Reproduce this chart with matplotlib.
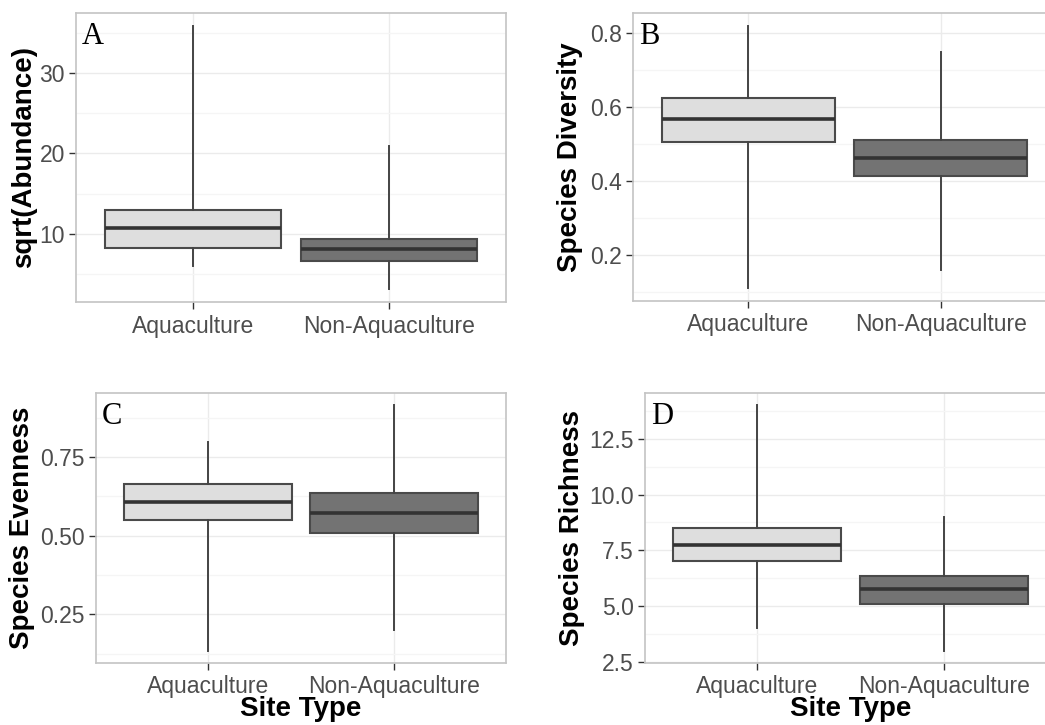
"""Four-panel boxplot figure: fish metrics at aquaculture vs non-aquaculture sites."""
import matplotlib
matplotlib.use("Agg")
import matplotlib.pyplot as plt
from matplotlib.ticker import FixedLocator

plt.rcParams["font.family"] = ["Liberation Sans", "DejaVu Sans"]

site_types = ["Aquaculture", "Non-Aquaculture"]
box_fills = ["#dedede", "#737373"]

# five-number summaries per site type: low whisker, q1, median, q3, high whisker
abundance_low = [6.0, 3.2]
abundance_q1 = [8.3, 6.6]
abundance_med = [10.7, 8.1]
abundance_q3 = [13.0, 9.4]
abundance_high = [35.8, 20.9]

diversity_low = [0.111, 0.160]
diversity_q1 = [0.506, 0.414]
diversity_med = [0.567, 0.463]
diversity_q3 = [0.624, 0.510]
diversity_high = [0.819, 0.749]

evenness_low = [0.134, 0.200]
evenness_q1 = [0.550, 0.508]
evenness_med = [0.608, 0.571]
evenness_q3 = [0.664, 0.635]
evenness_high = [0.797, 0.915]

richness_low = [4.0, 3.0]
richness_q1 = [7.0, 5.1]
richness_med = [7.75, 5.75]
richness_q3 = [8.5, 6.35]
richness_high = [14.0, 9.0]

W, H = 1045, 725


def add_panel(fig, rect_px, letter, ylabel, ylabel_x, stats, major, minor, ticklabels, show_xlabel):
    left, top, right, bottom = rect_px
    ax = fig.add_axes([left / W, 1 - bottom / H, (right - left) / W, (bottom - top) / H])
    lows, q1s, meds, q3s, highs = stats
    bxp_stats = []
    for i, name in enumerate(site_types):
        bxp_stats.append(dict(whislo=lows[i], q1=q1s[i], med=meds[i], q3=q3s[i],
                              whishi=highs[i], fliers=[], label=name))
    parts = ax.bxp(bxp_stats, positions=[1, 2], widths=0.9, patch_artist=True,
                   showcaps=False, showfliers=False,
                   boxprops=dict(edgecolor="#4a4a4a", linewidth=1.5),
                   medianprops=dict(color="#333333", linewidth=2.6),
                   whiskerprops=dict(color="#444444", linewidth=1.4), zorder=3)
    for patch, c in zip(parts["boxes"], box_fills):
        patch.set_facecolor(c)

    lo, hi = min(lows), max(highs)
    pad = 0.05 * (hi - lo)
    ax.set_ylim(lo - pad, hi + pad)
    ax.set_xlim(0.4, 2.6)

    ax.yaxis.set_major_locator(FixedLocator(major))
    ax.yaxis.set_minor_locator(FixedLocator(minor))
    ax.set_yticks(major, ticklabels)
    ax.set_xticks([1, 2], site_types)
    ax.grid(which="major", color="#ebebeb", linewidth=1.0, zorder=0)
    ax.grid(which="minor", axis="y", color="#f5f5f5", linewidth=1.0, zorder=0)
    ax.set_axisbelow(True)
    ax.tick_params(which="major", length=5, width=1.0, color="#333333",
                   labelcolor="#4d4d4d", labelsize=16.5, pad=3)
    ax.tick_params(axis="x", pad=4)
    ax.tick_params(which="minor", length=0)
    for s in ax.spines.values():
        s.set_color("#c4c4c4")
        s.set_linewidth(1.2)

    fig.text(ylabel_x / W, 1 - ((top + bottom) / 2) / H, ylabel, rotation=90,
             ha="center", va="center", fontsize=20, fontweight="bold")
    if show_xlabel:
        ax.set_xlabel("Site Type", fontsize=20, fontweight="bold", labelpad=-2)
    ax.annotate(letter, xy=(0, 1), xycoords="axes fraction", xytext=(6, -31),
                textcoords="offset pixels", ha="left", va="baseline",
                fontsize=22, family="Liberation Serif")
    return ax


fig = plt.figure(figsize=(W / 100, H / 100), dpi=100)

add_panel(fig, (76, 13, 506, 302), "A", "sqrt(Abundance)", 24,
          (abundance_low, abundance_q1, abundance_med, abundance_q3, abundance_high),
          [10, 20, 30], [5, 15, 25, 35], ["10", "20", "30"], False)
add_panel(fig, (633, 13, 1056, 301), "B", "Species Diversity", 570,
          (diversity_low, diversity_q1, diversity_med, diversity_q3, diversity_high),
          [0.2, 0.4, 0.6, 0.8], [0.1, 0.3, 0.5, 0.7], ["0.2", "0.4", "0.6", "0.8"], False)
add_panel(fig, (96, 393, 506, 663), "C", "Species Evenness", 22,
          (evenness_low, evenness_q1, evenness_med, evenness_q3, evenness_high),
          [0.25, 0.5, 0.75], [0.125, 0.375, 0.625, 0.875], ["0.25", "0.50", "0.75"], True)
add_panel(fig, (645, 393, 1056, 663), "D", "Species Richness", 572,
          (richness_low, richness_q1, richness_med, richness_q3, richness_high),
          [2.5, 5.0, 7.5, 10.0, 12.5], [3.75, 6.25, 8.75, 11.25, 13.75],
          ["2.5", "5.0", "7.5", "10.0", "12.5"], True)

fig.savefig("out.png", dpi=100)
